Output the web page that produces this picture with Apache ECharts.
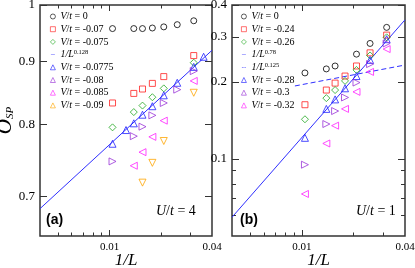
<!DOCTYPE html>
<html><head><meta charset="utf-8">
<script src="https://cdn.jsdelivr.net/npm/echarts@6.0.0/dist/echarts.min.js"></script>
<style>html,body{margin:0;padding:0;background:#fff}#c{width:415px;height:268px}</style>
</head><body><div id="c"></div>
<script>
// ---------- Panel (a): U/t = 4 ----------
const aL_V0 = [96, 72, 64, 56, 48, 40, 32];
const aO_V0 = [0.957, 0.957, 0.957, 0.958, 0.960, 0.964, 0.971];
const aL_V007 = [96, 72, 64, 56, 48, 32];
const aO_V007 = [0.833, 0.848, 0.855, 0.864, 0.875, 0.910];
const aL_V0075 = [96, 72, 64, 56, 48, 32];
const aO_V0075 = [0.796, 0.819, 0.829, 0.842, 0.856, 0.898];
const aL_V00775 = [96, 80, 72, 64, 56, 48, 40, 32, 28];
const aO_V00775 = [0.772, 0.792, 0.802, 0.815, 0.828, 0.845, 0.865, 0.891, 0.908];
const aL_V008 = [96, 72, 64, 56, 48, 40, 32];
const aO_V008 = [0.747, 0.783, 0.797, 0.814, 0.833, 0.854, 0.884];
const aL_V0085 = [72, 64, 56, 48, 32];
const aO_V0085 = [0.741, 0.760, 0.782, 0.806, 0.868];
const aL_V009 = [64, 56, 48, 32];
const aO_V009 = [0.718, 0.745, 0.776, 0.849];
const aFitX = [0.00390625, 0.04];
const aFitY = [0.684, 0.919];

// ---------- Panel (b): U/t = 1 ----------
const bL_V0 = [96, 72, 64, 48, 40, 32];
const bO_V0 = [0.217, 0.225, 0.231, 0.257, 0.283, 0.327];
const bL_V024 = [96, 72, 64, 56, 48, 40, 32];
const bO_V024 = [0.163, 0.186, 0.198, 0.211, 0.231, 0.260, 0.305];
const bL_V026 = [96, 72, 64, 56, 48, 40, 32];
const bO_V026 = [0.143, 0.173, 0.186, 0.202, 0.223, 0.254, 0.299];
const bL_V028 = [96, 72, 64, 56, 48, 40, 32];
const bO_V028 = [0.121, 0.157, 0.171, 0.189, 0.211, 0.244, 0.294];
const bL_V03 = [96, 72, 64, 56, 48, 40, 32];
const bO_V03 = [0.095, 0.137, 0.154, 0.174, 0.199, 0.235, 0.283];
const bL_V032 = [96, 72, 64, 56, 48, 40, 32];
const bO_V032 = [0.073, 0.115, 0.135, 0.157, 0.183, 0.219, 0.269];
const bFit78X = [0.00390625, 0.04];
const bFit78Y = [0.0592, 0.350];
const bFit125X = [0.0091, 0.04];
const bFit125Y = [0.193, 0.233];

// ---------- axes / ticks ----------
const xMin = 0.00390625, xMax = 0.04;
const xLabelTicks = [0.01, 0.04];
const xMajorTicks = [0.01];
const xMinorTicks = [0.005, 0.006, 0.007, 0.008, 0.009, 0.02, 0.03];
const aYMin = 0.65, aYMax = 1;
const aYTicks = [0.7, 0.8, 0.9, 1];
const bYMin = 0.05, bYMax = 0.4;
const bYTicks = [0.1, 0.2, 0.3, 0.4];
const bYMinorTicks = [0.06, 0.07, 0.08, 0.09];

const legendText = {
  a0: '{i|V}/{i|t} = 0', a007: '{i|V}/{i|t} = -0.07', a0075: '{i|V}/{i|t} = -0.075',
  afit: '{i|1/L}{sup|0.128}', a00775: '{i|V}/{i|t} = -0.0775', a008: '{i|V}/{i|t} = -0.08',
  a0085: '{i|V}/{i|t} = -0.085', a009: '{i|V}/{i|t} = -0.09',
  b0: '{i|V}/{i|t} = 0', b024: '{i|V}/{i|t} = -0.24', b026: '{i|V}/{i|t} = -0.26',
  bfit78: '{i|1/L}{sup|0.78}', bfit125: '{i|1/L}{sup|0.125}', b028: '{i|V}/{i|t} = -0.28',
  b03: '{i|V}/{i|t} = -0.3', b032: '{i|V}/{i|t} = -0.32'
};

const SERIF = 'Liberation Serif';
const FRAME = '#333';
const BLUE = '#2f2fff';
const SOLID_ICON = 'path://M0,0M10,10M1,4.6H9V5.4H1Z';
const DASH_ICON = 'path://M0,0M10,10M1,4.6H4.5V5.4H1ZM6,4.6H9V5.4H6Z';

function fmt(v) { return String(+(+v).toFixed(2)); }

function xAxesFor(gi) {
  const base = { type: 'log', logBase: 10, gridIndex: gi, min: xMin, max: xMax,
    axisLine: { show: false }, splitLine: { show: false } };
  return [
    Object.assign({}, base, { position: 'bottom',
      axisTick: { inside: true, length: 6, customValues: xMajorTicks, lineStyle: { color: FRAME, width: 1 } },
      axisLabel: { customValues: xLabelTicks, formatter: fmt, fontFamily: SERIF, fontSize: 11, color: '#000', margin: 6 },
      name: '1/L', nameLocation: 'middle', nameGap: 16, nameMoveOverlap: false,
      nameTextStyle: { fontFamily: SERIF, fontStyle: 'italic', fontSize: 17, color: '#000' } }),
    Object.assign({}, base, { position: 'bottom',
      axisTick: { inside: true, length: 3.5, customValues: xMinorTicks, lineStyle: { color: FRAME, width: 1 } },
      axisLabel: { show: false } }),
    Object.assign({}, base, { position: 'top',
      axisTick: { inside: true, length: 6, customValues: xMajorTicks, lineStyle: { color: FRAME, width: 1 } },
      axisLabel: { show: false } }),
    Object.assign({}, base, { position: 'top',
      axisTick: { inside: true, length: 3.5, customValues: xMinorTicks, lineStyle: { color: FRAME, width: 1 } },
      axisLabel: { show: false } })
  ];
}

function yAxis(gi, pos, min, max, ticks, len, labels, extra) {
  return Object.assign({ type: 'log', logBase: 10, gridIndex: gi, position: pos, min: min, max: max,
    axisLine: { show: false }, splitLine: { show: false },
    axisTick: { inside: true, length: len, customValues: ticks, lineStyle: { color: FRAME, width: 1 } },
    axisLabel: labels ? { customValues: labels, formatter: fmt, fontFamily: SERIF, fontSize: 13, color: '#000', margin: 5 } : { show: false }
  }, extra || {});
}

function sc(name, Ls, Os, symbol, rot, color, size, gi) {
  return { type: 'scatter', name: name, xAxisIndex: gi * 4, yAxisIndex: gi === 0 ? 0 : 2,
    data: Ls.map((L, i) => [1 / L, Os[i]]),
    symbol: symbol, symbolRotate: rot, symbolSize: size,
    itemStyle: { color: 'rgba(255,255,255,0)', borderColor: color, borderWidth: 1 }, z: 5 };
}
function fit(name, xs, ys, gi, dashed) {
  return { type: 'line', name: name, xAxisIndex: gi * 4, yAxisIndex: gi === 0 ? 0 : 2,
    data: xs.map((x, i) => [x, ys[i]]), symbol: 'none', showSymbol: false,
    lineStyle: { color: BLUE, width: 1, type: dashed ? [5, 3] : 'solid' },
    itemStyle: { color: BLUE }, z: 3 };
}

const C = { k: '#000000', r: '#ff2020', g: '#21a821', b: '#2020ff', v: '#9a35d8', m: '#ff20ff', o: '#ffa500' };

const yNameStyle = { rich: {
  o: { fontFamily: SERIF, fontStyle: 'italic', fontSize: 21, color: '#000' },
  s: { fontFamily: SERIF, fontStyle: 'italic', fontSize: 11, color: '#000', verticalAlign: 'bottom', padding: [6, 0, 0, 0] }
} };

const legendRich = {
  i: { fontFamily: SERIF, fontStyle: 'italic', fontSize: 10, color: '#000' },
  sup: { fontFamily: SERIF, fontSize: 6.5, color: '#000', verticalAlign: 'top', padding: [0, 0, 5, 0] }
};
function legend(left, names) {
  return { show: true, orient: 'vertical', left: left, top: 6, itemWidth: 5, itemHeight: 5, itemGap: 1.7,
    selectedMode: false, data: names, formatter: n => legendText[n],
    itemStyle: { borderWidth: 0.8 },
    textStyle: { fontFamily: SERIF, fontSize: 10, color: '#000', lineHeight: 11, rich: legendRich } };
}

const option = {
  animation: false,
  backgroundColor: '#fff',
  grid: [
    { left: 40, top: 5, width: 172, height: 231, show: true, borderColor: FRAME, borderWidth: 1.5, backgroundColor: 'transparent', outerBoundsMode: 'none', containLabel: false },
    { left: 232, top: 5, width: 173, height: 231, show: true, borderColor: FRAME, borderWidth: 1.5, backgroundColor: 'transparent', outerBoundsMode: 'none', containLabel: false }
  ],
  xAxis: xAxesFor(0).concat(xAxesFor(1)),
  yAxis: [
    yAxis(0, 'left', aYMin, aYMax, aYTicks, 7, aYTicks, { name: '{o|O}{s|SP}', nameLocation: 'middle', nameGap: 24, nameMoveOverlap: false, nameTextStyle: yNameStyle }),
    yAxis(0, 'right', aYMin, aYMax, aYTicks, 7, null),
    yAxis(1, 'left', bYMin, bYMax, bYTicks, 7, bYTicks),
    yAxis(1, 'left', bYMin, bYMax, bYMinorTicks, 4, null),
    yAxis(1, 'right', bYMin, bYMax, bYTicks, 7, null),
    yAxis(1, 'right', bYMin, bYMax, bYMinorTicks, 4, null)
  ],
  legend: [
    legend(45, ['a0', 'a007', 'a0075', { name: 'afit', icon: SOLID_ICON }, 'a00775', 'a008', 'a0085', 'a009']),
    legend(236, ['b0', 'b024', 'b026', { name: 'bfit78', icon: SOLID_ICON }, { name: 'bfit125', icon: DASH_ICON }, 'b028', 'b03', 'b032'])
  ],
  graphic: [
    { type: 'text', left: 46, top: 213, style: { text: '(a)', font: 'bold 14px "Liberation Sans"', fill: '#000' } },
    { type: 'text', left: 156, top: 204, style: { text: '{i|U}/{i|t} = 4', font: '14px "Liberation Serif"', fill: '#000',
        rich: { i: { fontFamily: SERIF, fontStyle: 'italic', fontSize: 14 } } } },
    { type: 'text', left: 240, top: 213, style: { text: '(b)', font: 'bold 14px "Liberation Sans"', fill: '#000' } },
    { type: 'text', left: 356, top: 204, style: { text: '{i|U}/{i|t} = 1', font: '14px "Liberation Serif"', fill: '#000',
        rich: { i: { fontFamily: SERIF, fontStyle: 'italic', fontSize: 14 } } } }
  ],
  series: [
    fit('afit', aFitX, aFitY, 0, false),
    sc('a0', aL_V0, aO_V0, 'circle', 0, C.k, 6, 0),
    sc('a007', aL_V007, aO_V007, 'rect', 0, C.r, 6, 0),
    sc('a0075', aL_V0075, aO_V0075, 'diamond', 0, C.g, 7, 0),
    sc('a00775', aL_V00775, aO_V00775, 'triangle', 0, C.b, 7, 0),
    sc('a008', aL_V008, aO_V008, 'triangle', -90, C.v, 7, 0),
    sc('a0085', aL_V0085, aO_V0085, 'triangle', 90, C.m, 7, 0),
    sc('a009', aL_V009, aO_V009, 'triangle', 180, C.o, 7, 0),
    fit('bfit78', bFit78X, bFit78Y, 1, false),
    fit('bfit125', bFit125X, bFit125Y, 1, true),
    sc('b0', bL_V0, bO_V0, 'circle', 0, C.k, 6, 1),
    sc('b024', bL_V024, bO_V024, 'rect', 0, C.r, 6, 1),
    sc('b026', bL_V026, bO_V026, 'diamond', 0, C.g, 7, 1),
    sc('b028', bL_V028, bO_V028, 'triangle', 0, C.b, 7, 1),
    sc('b03', bL_V03, bO_V03, 'triangle', -90, C.v, 7, 1),
    sc('b032', bL_V032, bO_V032, 'triangle', 90, C.m, 7, 1)
  ]
};

const chart = echarts.init(document.getElementById('c'), null, { renderer: 'canvas' });
chart.setOption(option);
</script>
</body></html>
